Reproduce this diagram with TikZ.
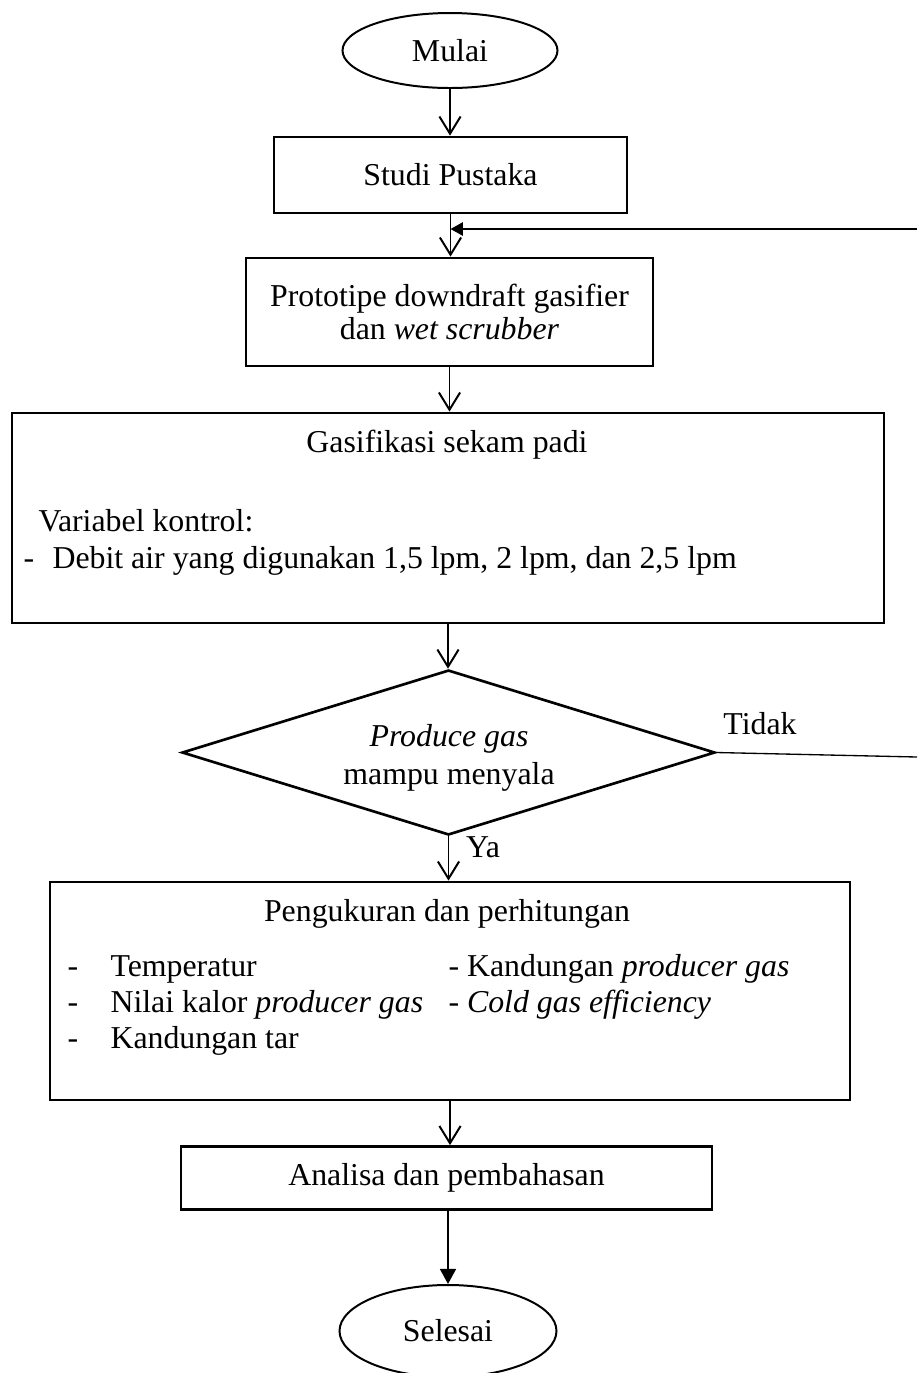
\documentclass[tikz,border=0pt]{standalone}
\usepackage{fontspec}
\setmainfont{Liberation Serif}
\usetikzlibrary{arrows.meta,shapes.geometric}
\def\u{0.377pt}
\begin{document}
\begin{tikzpicture}[x=0.377pt,y=-0.377pt,
  font=\fontsize{12}{13}\selectfont,
  box/.style={draw, line width=1.05pt, rectangle, inner sep=0pt},
  oval/.style={draw, ellipse, line width=0.75pt, inner sep=0pt},
  txt/.style={inner sep=0pt, execute at begin node=\strut},
  arr/.style={-{Straight Barb[length=6.5pt,width=8pt,line width=0.75pt]}, line width=0.75pt},
  arrf/.style={-{Triangle[length=5.7pt,width=6pt]}, line width=0.8pt},
  arrl/.style={-{Triangle[length=4.7pt,width=5pt]}, line width=0.8pt},
  thin line/.style={line width=0.5pt}]
\useasboundingbox (0,0) rectangle (917,1373);

\node[oval, minimum width={215*\u}, minimum height={75*\u}] (mulai) at (450,50.5) {Mulai};
\node[box, minimum width={353*\u}, minimum height={76*\u}] (studi) at (450.5,175) {Studi Pustaka};
\node[box, minimum width={407*\u}, minimum height={108*\u}, align=center,
      font=\fontsize{12}{12.1}\selectfont] (proto) at (449.5,312)
      {Prototipe downdraft gasifier\\dan \textit{wet scrubber}};

\node[box, minimum width={872*\u}, minimum height={210*\u}] (gas) at (448,518) {};
\node[txt] (gast) at (447,446) {Gasifikasi sekam padi};
\node[txt, anchor=west] (var) at (38,525) {Variabel kontrol:};
\node[txt, anchor=west] (d0) at (23,562) {-};
\node[txt, anchor=west] (debit) at (52,562) {Debit air yang digunakan 1,5 lpm, 2 lpm, dan 2,5 lpm};

\node[draw, diamond, line width=1pt, inner sep=0pt, minimum width={533*\u}, minimum height={165*\u}] (dec) at (448.5,752.5) {};
\node[txt] (dect1) at (449,740) {\textit{Produce gas}};
\node[txt] (dect2) at (449,778) {mampu menyala};

\node[box, minimum width={800*\u}, minimum height={218*\u}] (ukur) at (450,991) {};
\node[txt] (ukurt) at (447,915) {Pengukuran dan perhitungan};
\node[txt, anchor=west] (d1) at (67,970) {-};
\node[txt, anchor=west] (i1) at (110,970) {Temperatur};
\node[txt, anchor=west] (d2) at (67,1006) {-};
\node[txt, anchor=west] (i2) at (110,1006) {Nilai kalor \textit{producer gas}};
\node[txt, anchor=west] (d3) at (67,1042) {-};
\node[txt, anchor=west] (i3) at (110,1042) {Kandungan tar};
\node[txt, anchor=west] (i4) at (448,970) {- Kandungan \textit{producer gas}};
\node[txt, anchor=west] (i5) at (448,1006) {- \textit{Cold gas efficiency}};

\node[box, minimum width={531*\u}, minimum height={63*\u}] (anal) at (446.5,1178) {Analisa dan pembahasan};
\node[oval, minimum width={217*\u}, minimum height={92*\u}] (selesai) at (448,1331) {Selesai};

\coordinate (loopR) at (917,229);
\coordinate (tidakR) at (917,757);

\draw[arr] (mulai.south) -- (mulai.south |- studi.north);
\draw[arr] (studi.south) -- (studi.south |- proto.north);
\draw[arrl] (loopR) -- (studi.south |- loopR);
\draw[arr] (proto.south) -- (proto.south |- gas.north);
\draw[arr] (gas.south) -- (gas.south |- dec.north);
\draw[thin line] (dec.east) -- (tidakR);
\node[txt] (tidak) at (760,728) {Tidak};
\draw[arr] (dec.south) -- (dec.south |- ukur.north);
\node[txt] (ya) at (483,851) {Ya};
\draw[arr] (ukur.south) -- (ukur.south |- anal.north);
\draw[arrf] (selesai.north |- anal.south) -- (selesai.north);
\end{tikzpicture}
\end{document}
